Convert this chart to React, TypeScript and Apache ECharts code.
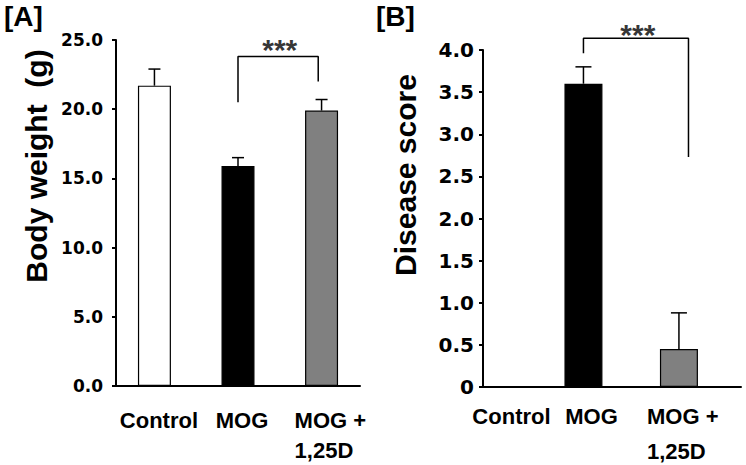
import React, { useEffect, useRef } from 'react';
import * as echarts from 'echarts';

// ---- Data ----
const groups = ['Control', 'MOG', 'MOG +\n1,25D'];
const bodyWeight = [21.7, 15.9, 19.9];
const bodyWeightErr = [1.2, 0.6, 0.8];
const diseaseScore = [0, 3.6, 0.45];
const diseaseScoreErr = [0, 0.2, 0.43];
const weightAxis = { min: 0, max: 25, interval: 5 };
const scoreAxis = { min: 0, max: 4, interval: 0.5 };
// significance brackets (x in group index, y in data units)
const bracketA = [[1, 20.5], [1, 23.8], [1.96, 23.8], [1.96, 22.0]];
const bracketB = [[1, 3.96], [1, 4.14], [2.1, 4.14], [2.1, 2.73]];
const starsA = [[1.5, 23.8]];
const starsB = [[1.57, 4.14]];
const sigLabel = '***';

// ---- Styles / layout ----
const barColors = ['#ffffff', '#000000', '#808080'];
const FONT = 'Liberation Sans, Arial, Helvetica, sans-serif';
const TICKFONT = 'DejaVu Sans, Verdana, sans-serif';
const labelPosA = [0.054, 1.048, 2.105];
const labelPosB = [0.246, 1.084, 2.04];

function xLabelFormatter(v: number) {
  const name = groups[Math.round(v)] || '';
  if (name.indexOf('\n') >= 0) {
    return name.split('\n').map((s) => '{l|' + s + '}').join('\n');
  }
  return name;
}

function errRender(cap: number) {
  return (params: any, api: any) => {
    const x = api.value(0);
    const m = api.value(1);
    const e = api.value(2);
    if (!e) return { type: 'group', children: [] };
    const p0 = api.coord([x, m]);
    const p1 = api.coord([x, m + e]);
    return {
      type: 'group',
      children: [
        { type: 'line', shape: { x1: p0[0], y1: p0[1], x2: p1[0], y2: p1[1] }, style: { stroke: '#000', lineWidth: 1.5 } },
        { type: 'line', shape: { x1: p1[0] - cap, y1: p1[1], x2: p1[0] + cap, y2: p1[1] }, style: { stroke: '#000', lineWidth: 1.5 } },
      ],
    };
  };
}

export default function App() {
  const ref = useRef<HTMLDivElement>(null);
  useEffect(() => {
    const chart = echarts.init(ref.current!, null, { renderer: 'svg' });
    const axisLine = { show: true, onZero: false, lineStyle: { color: '#000', width: 2 } };
    const xLabel = (margin: number, lh: number, pos: number[]) => ({
      customValues: pos,
      formatter: xLabelFormatter,
      color: '#000',
      fontFamily: FONT,
      fontWeight: 'bold',
      fontSize: 22,
      lineHeight: lh,
      margin,
      rich: { l: { align: 'left', fontFamily: FONT, fontWeight: 'bold', fontSize: 22, lineHeight: lh, color: '#000' } },
    });
    const starLabel = (dy: number) => ({
      show: true, position: 'top', distance: 0, offset: [0, dy], formatter: sigLabel,
      color: '#000', fontFamily: FONT, fontWeight: 'bold', fontSize: 30, lineHeight: 30,
    });
    const option: any = {
      animation: false,
      backgroundColor: '#fff',
      grid: [
        { left: 116, top: 40, width: 244, height: 346, outerBoundsMode: 'none', containLabel: false },
        { left: 483, top: 50, width: 258, height: 337, outerBoundsMode: 'none', containLabel: false },
      ],
      xAxis: [
        {
          type: 'value', gridIndex: 0, min: -0.46, max: 2.46,
          axisLine, axisTick: { show: false }, splitLine: { show: false },
          axisLabel: xLabel(19, 30, labelPosA),
        },
        {
          type: 'value', gridIndex: 1, min: -0.052, max: 2.65,
          axisLine, axisTick: { show: false }, splitLine: { show: false },
          axisLabel: xLabel(12, 35, labelPosB),
        },
      ],
      yAxis: [
        {
          type: 'value', gridIndex: 0, ...weightAxis,
          axisLine, axisTick: { show: true, length: 4, lineStyle: { color: '#000', width: 2 } },
          splitLine: { show: false },
          axisLabel: { formatter: (v: number) => v.toFixed(1), color: '#000', fontFamily: TICKFONT, fontWeight: 'bold', fontSize: 17, margin: 13 },
        },
        {
          type: 'value', gridIndex: 1, ...scoreAxis,
          axisLine, axisTick: { show: true, length: 4, lineStyle: { color: '#000', width: 2 } },
          splitLine: { show: false },
          axisLabel: { formatter: (v: number) => (v === 0 ? '0' : v.toFixed(1)), color: '#000', fontFamily: TICKFONT, fontWeight: 'bold', fontSize: 20, margin: 9 },
        },
      ],
      series: [
        {
          type: 'bar', xAxisIndex: 0, yAxisIndex: 0, barWidth: 33,
          data: bodyWeight.map((v, i) => ({ value: [i, v], itemStyle: { color: barColors[i], borderColor: '#000', borderWidth: 1.2 } })),
        },
        {
          type: 'custom', xAxisIndex: 0, yAxisIndex: 0, z: 5,
          renderItem: errRender(6),
          encode: { x: 0, y: 1 },
          data: bodyWeight.map((v, i) => [i, v, bodyWeightErr[i]]),
        },
        {
          type: 'line', xAxisIndex: 0, yAxisIndex: 0, clip: false, symbol: 'none', z: 5,
          lineStyle: { color: '#000', width: 1.5 },
          data: bracketA,
        },
        {
          type: 'scatter', xAxisIndex: 0, yAxisIndex: 0, clip: false, symbolSize: 0,
          label: starLabel(8),
          data: starsA,
        },
        {
          type: 'bar', xAxisIndex: 1, yAxisIndex: 1, barWidth: 38,
          data: diseaseScore.map((v, i) => ({ value: [i, v], itemStyle: { color: barColors[i], borderColor: '#000', borderWidth: v ? 1.2 : 0 } })),
        },
        {
          type: 'custom', xAxisIndex: 1, yAxisIndex: 1, z: 5,
          renderItem: errRender(8),
          encode: { x: 0, y: 1 },
          data: diseaseScore.map((v, i) => [i, v, diseaseScoreErr[i]]),
        },
        {
          type: 'line', xAxisIndex: 1, yAxisIndex: 1, clip: false, symbol: 'none', z: 5,
          lineStyle: { color: '#000', width: 1.5 },
          data: bracketB,
        },
        {
          type: 'scatter', xAxisIndex: 1, yAxisIndex: 1, clip: false, symbolSize: 0,
          label: starLabel(11),
          data: starsB,
        },
      ],
      graphic: [
        { type: 'text', left: 4, top: 2, style: { text: '[A]', fontFamily: FONT, fontWeight: 'bold', fontSize: 28, fill: '#000' } },
        { type: 'text', left: 376, top: 2, style: { text: '[B]', fontFamily: FONT, fontWeight: 'bold', fontSize: 28, fill: '#000' } },
        {
          type: 'text', x: 36, y: 166, rotation: Math.PI / 2,
          style: { text: 'Body weight  (g)', fontFamily: FONT, fontWeight: 'bold', fontSize: 30, fill: '#000', align: 'center', verticalAlign: 'middle' },
        },
        {
          type: 'text', x: 405, y: 175, rotation: Math.PI / 2,
          style: { text: 'Disease score', fontFamily: FONT, fontWeight: 'bold', fontSize: 30, fill: '#000', align: 'center', verticalAlign: 'middle' },
        },
      ],
    };
    chart.setOption(option);
    return () => chart.dispose();
  }, []);
  return <div ref={ref} style={{ position: 'fixed', left: 0, top: 0, width: 746, height: 465, background: '#fff' }} />;
}
